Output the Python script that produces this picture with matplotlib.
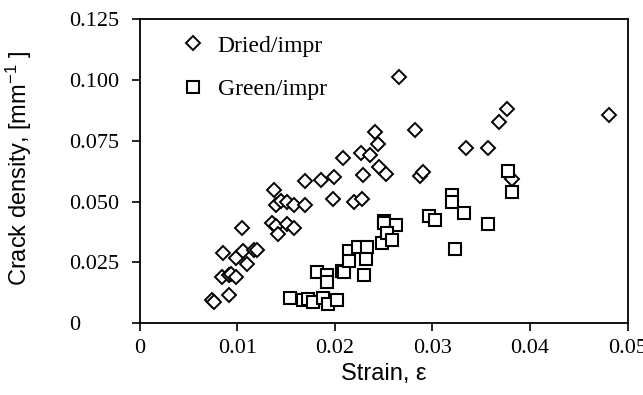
import numpy as np
import matplotlib
matplotlib.use("Agg")
from matplotlib import pyplot as plt

# Dried/impr (diamonds)
dried_strain = [0.0074, 0.0076, 0.0092, 0.0085, 0.0092, 0.0094, 0.0099, 0.0086,
                0.0099, 0.0106, 0.0110, 0.0117, 0.0120, 0.0105, 0.0136, 0.0140,
                0.0142, 0.0151, 0.0158, 0.0138, 0.0140, 0.0145, 0.0151, 0.0158,
                0.0169, 0.0169, 0.0186, 0.0199, 0.0198, 0.0208, 0.0220, 0.0228,
                0.0229, 0.0227, 0.0236, 0.0244, 0.0241, 0.0245, 0.0252, 0.0266,
                0.0282, 0.0287, 0.0290, 0.0334, 0.0357, 0.0368, 0.0376, 0.0382,
                0.0481]
dried_density = [0.0094, 0.0088, 0.0118, 0.0190, 0.0200, 0.0204, 0.0190, 0.0290,
                 0.0270, 0.0296, 0.0245, 0.0300, 0.0303, 0.0390, 0.0410, 0.0400,
                 0.0365, 0.0409, 0.0390, 0.0548, 0.0488, 0.0504, 0.0497, 0.0488,
                 0.0488, 0.0585, 0.0590, 0.0600, 0.0512, 0.0680, 0.0497, 0.0512,
                 0.0610, 0.0698, 0.0690, 0.0736, 0.0787, 0.0640, 0.0614, 0.1010,
                 0.0794, 0.0607, 0.0620, 0.0720, 0.0720, 0.0825, 0.0882, 0.0593,
                 0.0857]

# Green/impr (squares)
green_strain = [0.0154, 0.0167, 0.0173, 0.0178, 0.0188, 0.0193, 0.0202, 0.0182,
                0.0192, 0.0192, 0.0207, 0.0209, 0.0230, 0.0215, 0.0215, 0.0224,
                0.0233, 0.0232, 0.0248, 0.0250, 0.0250, 0.0263, 0.0253, 0.0259,
                0.0297, 0.0303, 0.0320, 0.0320, 0.0332, 0.0357, 0.0323, 0.0377,
                0.0382]
green_density = [0.0104, 0.0097, 0.0101, 0.0087, 0.0105, 0.0081, 0.0097, 0.0210,
                 0.0200, 0.0170, 0.0213, 0.0210, 0.0200, 0.0296, 0.0255, 0.0313,
                 0.0313, 0.0265, 0.0329, 0.0422, 0.0412, 0.0404, 0.0370, 0.0343,
                 0.0440, 0.0425, 0.0529, 0.0497, 0.0454, 0.0409, 0.0306, 0.0627,
                 0.0540]

x_ticks = [0, 0.01, 0.02, 0.03, 0.04, 0.05]
x_labels = ["0", "0.01", "0.02", "0.03", "0.04", "0.05"]
y_ticks = [0, 0.025, 0.05, 0.075, 0.1, 0.125]
y_labels = ["0", "0.025", "0.050", "0.075", "0.100", "0.125"]

plt.rcParams['mathtext.default'] = 'regular'

W, H = 643, 395
fig = plt.figure(figsize=(W / 100, H / 100), dpi=100)
ax = fig.add_axes([139.5 / W, 1 - 323.3 / H, (627.7 - 139.5) / W, (323.3 - 19) / H])

ax.plot(dried_strain, dried_density, linestyle='none', marker='D', markersize=7,
        markerfacecolor='white', markeredgecolor='black', markeredgewidth=1.4,
        label='Dried/impr')
ax.plot(green_strain, green_density, linestyle='none', marker='s', markersize=8.3,
        markerfacecolor='white', markeredgecolor='black', markeredgewidth=1.5,
        label='Green/impr')

ax.set_xlim(0, 0.05)
ax.set_ylim(0, 0.125)
ax.set_xticks(x_ticks)
ax.set_xticklabels(x_labels, family='Liberation Serif', fontsize=16)
ax.set_yticks(y_ticks)
ax.set_yticklabels(y_labels, family='Liberation Serif', fontsize=16, ha='left')
ax.tick_params(axis='x', direction='out', length=6, width=1.2, pad=5)
ax.tick_params(axis='y', direction='out', length=6, width=1.2, pad=45)

for s in ax.spines.values():
    s.set_linewidth(1.3)

ax.set_xlabel('Strain, ε', family='Liberation Sans', fontsize=17, labelpad=4)
ax.set_ylabel('Crack density, [mm$^{-1}$ ]', family='Liberation Sans', fontsize=17)
# label anchor is its right edge once rotated
ax.yaxis.set_label_coords(-0.216, 0.51)

leg = ax.legend(loc='upper left', bbox_to_anchor=(181 / W, 1 - 35 / H),
                bbox_transform=fig.transFigure, frameon=False,
                prop={'family': 'Liberation Serif', 'size': 17},
                handlelength=1.0, handletextpad=0.55, labelspacing=0.95,
                borderpad=0, borderaxespad=0)

plt.savefig('out.png', dpi=100)
